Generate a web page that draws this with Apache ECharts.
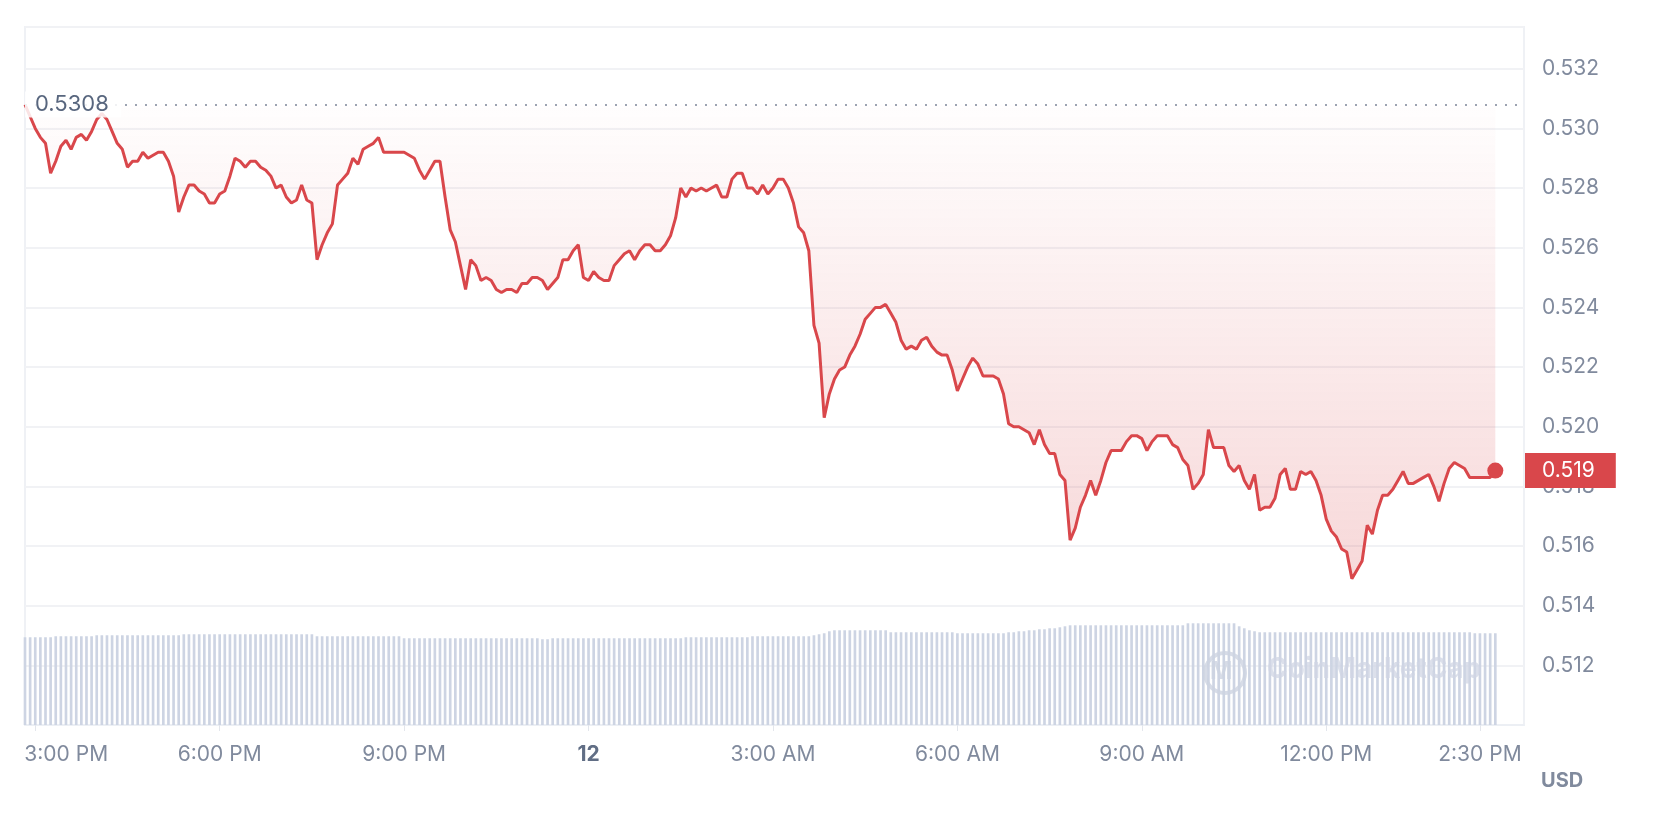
<!DOCTYPE html>
<html>
<head>
<meta charset="utf-8">
<title>Price chart</title>
<script src="https://cdn.jsdelivr.net/npm/echarts@6/dist/echarts.min.js"></script>
<style>
  html, body { margin: 0; padding: 0; background: #fff; }
  #chart { width: 1668px; height: 818px; }
</style>
</head>
<body>
<div id="chart"></div>
<script>
// one price every 5 minutes, from 14:50 on the 11th to 14:45 on the 12th
const startTime = new Date(2024, 5, 11, 14, 50).getTime();
const stepMs = 5 * 60 * 1000;
const axisEnd = new Date(2024, 5, 12, 15, 13).getTime();

const prices = [
  0.5308, 0.5304, 0.5300, 0.5297, 0.5295, 0.5285, 0.5289, 0.5294, 0.5296, 0.5293, 0.5297, 0.5298,
  0.5296, 0.5299, 0.5303, 0.5305, 0.5303, 0.5299, 0.5295, 0.5293, 0.5287, 0.5289, 0.5289, 0.5292,
  0.5290, 0.5291, 0.5292, 0.5292, 0.5289, 0.5284, 0.5272, 0.5277, 0.5281, 0.5281, 0.5279, 0.5278,
  0.5275, 0.5275, 0.5278, 0.5279, 0.5284, 0.5290, 0.5289, 0.5287, 0.5289, 0.5289, 0.5287, 0.5286,
  0.5284, 0.5280, 0.5281, 0.5277, 0.5275, 0.5276, 0.5281, 0.5276, 0.5275, 0.5256, 0.5261, 0.5265,
  0.5268, 0.5281, 0.5283, 0.5285, 0.5290, 0.5288, 0.5293, 0.5294, 0.5295, 0.5297, 0.5292, 0.5292,
  0.5292, 0.5292, 0.5292, 0.5291, 0.5290, 0.5286, 0.5283, 0.5286, 0.5289, 0.5289, 0.5277, 0.5266,
  0.5262, 0.5254, 0.5246, 0.5256, 0.5254, 0.5249, 0.5250, 0.5249, 0.5246, 0.5245, 0.5246, 0.5246,
  0.5245, 0.5248, 0.5248, 0.5250, 0.5250, 0.5249, 0.5246, 0.5248, 0.5250, 0.5256, 0.5256, 0.5259,
  0.5261, 0.5250, 0.5249, 0.5252, 0.5250, 0.5249, 0.5249, 0.5254, 0.5256, 0.5258, 0.5259, 0.5256,
  0.5259, 0.5261, 0.5261, 0.5259, 0.5259, 0.5261, 0.5264, 0.5270, 0.5280, 0.5277, 0.5280, 0.5279,
  0.5280, 0.5279, 0.5280, 0.5281, 0.5277, 0.5277, 0.5283, 0.5285, 0.5285, 0.5280, 0.5280, 0.5278,
  0.5281, 0.5278, 0.5280, 0.5283, 0.5283, 0.5280, 0.5275, 0.5267, 0.5265, 0.5259, 0.5234, 0.5228,
  0.5203, 0.5211, 0.5216, 0.5219, 0.5220, 0.5224, 0.5227, 0.5231, 0.5236, 0.5238, 0.5240, 0.5240,
  0.5241, 0.5238, 0.5235, 0.5229, 0.5226, 0.5227, 0.5226, 0.5229, 0.5230, 0.5227, 0.5225, 0.5224,
  0.5224, 0.5219, 0.5212, 0.5216, 0.5220, 0.5223, 0.5221, 0.5217, 0.5217, 0.5217, 0.5216, 0.5211,
  0.5201, 0.5200, 0.5200, 0.5199, 0.5198, 0.5194, 0.5199, 0.5194, 0.5191, 0.5191, 0.5184, 0.5182,
  0.5162, 0.5166, 0.5173, 0.5177, 0.5182, 0.5177, 0.5182, 0.5188, 0.5192, 0.5192, 0.5192, 0.5195,
  0.5197, 0.5197, 0.5196, 0.5192, 0.5195, 0.5197, 0.5197, 0.5197, 0.5194, 0.5193, 0.5189, 0.5187,
  0.5179, 0.5181, 0.5184, 0.5199, 0.5193, 0.5193, 0.5193, 0.5187, 0.5185, 0.5187, 0.5182, 0.5179,
  0.5184, 0.5172, 0.5173, 0.5173, 0.5176, 0.5184, 0.5186, 0.5179, 0.5179, 0.5185, 0.5184, 0.5185,
  0.5182, 0.5177, 0.5169, 0.5165, 0.5163, 0.5159, 0.5158, 0.5149, 0.5152, 0.5155, 0.5167, 0.5164,
  0.5172, 0.5177, 0.5177, 0.5179, 0.5182, 0.5185, 0.5181, 0.5181, 0.5182, 0.5183, 0.5184, 0.5180,
  0.5175, 0.5181, 0.5186, 0.5188, 0.5187, 0.5186, 0.5183, 0.5183, 0.5183, 0.5183, 0.5183, 0.51853
];

// 24h volume (millions USD), same timestamps
const volumes = [
  88, 88, 88, 88, 88, 88, 89, 89, 89, 89, 89, 89,
  89, 89, 90, 90, 90, 90, 90, 90, 90, 90, 90, 90,
  90, 90, 90, 90, 90, 90, 90, 91, 91, 91, 91, 91,
  91, 91, 91, 91, 91, 91, 91, 91, 91, 91, 91, 91,
  91, 91, 91, 91, 91, 91, 91, 91, 91, 89, 89, 89,
  89, 89, 89, 89, 89, 89, 89, 89, 89, 89, 89, 89,
  89, 89, 87, 87, 87, 87, 87, 87, 87, 87, 87, 87,
  87, 87, 87, 87, 87, 87, 87, 87, 87, 87, 87, 87,
  87, 87, 87, 87, 87, 86, 86, 87, 87, 87, 87, 87,
  87, 87, 87, 87, 87, 87, 87, 87, 87, 87, 87, 87,
  87, 87, 87, 87, 87, 87, 87, 87, 87, 88, 88, 88,
  88, 88, 88, 88, 88, 88, 88, 88, 88, 88, 89, 89,
  89, 89, 89, 89, 89, 89, 89, 89, 89, 89, 90, 91,
  92, 94, 95, 95, 95, 95, 95, 95, 95, 95, 95, 95,
  95, 93, 93, 93, 93, 93, 93, 93, 93, 93, 93, 93,
  93, 93, 92, 92, 92, 92, 92, 92, 92, 92, 92, 92,
  93, 93, 94, 94, 95, 95, 96, 96, 97, 97, 98, 99,
  100, 100, 100, 100, 100, 100, 100, 100, 100, 100, 100, 100,
  100, 100, 100, 100, 100, 100, 100, 100, 100, 100, 100, 102,
  102, 102, 102, 102, 102, 102, 102, 102, 102, 99, 97, 95,
  94, 93, 93, 93, 93, 93, 93, 93, 93, 93, 93, 93,
  93, 93, 93, 93, 93, 93, 93, 93, 93, 93, 93, 93,
  93, 93, 93, 93, 93, 93, 93, 93, 93, 93, 93, 93,
  93, 93, 93, 93, 93, 93, 93, 92, 92, 92, 92, 92
];

const openPrice = 0.5308;

const tickTimes = [
  new Date(2024, 5, 11, 15, 0),
  new Date(2024, 5, 11, 18, 0),
  new Date(2024, 5, 11, 21, 0),
  new Date(2024, 5, 12, 0, 0),
  new Date(2024, 5, 12, 3, 0),
  new Date(2024, 5, 12, 6, 0),
  new Date(2024, 5, 12, 9, 0),
  new Date(2024, 5, 12, 12, 0),
  new Date(2024, 5, 12, 14, 30)
].map(d => d.getTime());
const tickLabels = ['3:00 PM', '6:00 PM', '9:00 PM', '12', '3:00 AM', '6:00 AM', '9:00 AM', '12:00 PM', '2:30 PM'];

const times = prices.map((p, i) => startTime + i * stepMs);
const lastIdx = prices.length - 1;
const lastPrice = prices[lastIdx];

const red = '#d9474b';
const labelGray = '#808a9d';
const font = 'Inter, "Noto Sans", sans-serif';

let myChart = echarts.init(document.getElementById('chart'));
myChart.setOption({
  animation: false,
  textStyle: { fontFamily: font },
  grid: {
    left: 25,
    right: 144,
    top: 27,
    bottom: 93,
    outerBoundsMode: 'none',
    show: true,
    borderColor: '#eff1f5',
    borderWidth: 2,
  },
  xAxis: {
    // timestamps in ms on a plain value axis, labels placed by hand
    type: 'value',
    min: startTime,
    max: axisEnd,
    splitLine: { show: false },
    axisLine: { lineStyle: { color: '#eceff4', width: 2 } },
    axisTick: {
      show: true,
      customValues: tickTimes,
      length: 6,
      lineStyle: { color: '#e3e6ec', width: 1 },
    },
    axisLabel: {
      customValues: tickTimes,
      fontSize: 21,
      color: labelGray,
      margin: 19,
      formatter: (val) => {
        const k = tickTimes.indexOf(val);
        if (k < 0) return '';
        if (k === 0) return '{first|' + tickLabels[k] + '}';
        return tickLabels[k] === '12' ? '{day|12}' : tickLabels[k];
      },
      rich: {
        // first label is pushed right so it stays inside the plot
        first: { fontSize: 21, color: labelGray, fontFamily: font, padding: [0, 0, 0, 62] },
        day: { fontSize: 21, fontWeight: 'bold', color: '#616e85', fontFamily: font },
      },
    },
  },
  yAxis: [
    {
      type: 'value',
      position: 'right',
      min: 0.510,
      max: 0.5334,
      interval: 0.002,
      axisLine: { show: false },
      axisTick: { show: false },
      splitLine: { lineStyle: { color: '#f1f2f5', width: 2 } },
      axisLabel: {
        showMinLabel: false,
        showMaxLabel: false,
        fontSize: 21,
        color: labelGray,
        margin: 18,
        formatter: (v) => v.toFixed(3),
      },
    },
    {
      type: 'value',
      show: false,
      min: 0,
      max: 700,
      splitLine: { show: false },
    },
  ],
  graphic: [
    {
      type: 'text',
      left: 1541,
      top: 771,
      style: { text: 'USD', fontSize: 20, fontWeight: 'bold', fill: labelGray, fontFamily: font },
    },
    // faint watermark over the volume bars
    {
      type: 'circle',
      shape: { cx: 1225, cy: 673, r: 20 },
      style: { fill: 'none', stroke: 'rgba(205,211,225,0.8)', lineWidth: 4 },
      z: 100,
    },
    {
      type: 'text',
      left: 1210,
      top: 660,
      style: { text: 'M', fontSize: 24, fontWeight: 'bold', fill: 'rgba(205,211,225,0.8)', fontFamily: font },
      z: 100,
    },
    {
      type: 'text',
      left: 1267,
      top: 656,
      style: { text: 'CoinMarketCap', fontSize: 28, fontWeight: 'bold', fill: 'rgba(208,214,228,0.75)', fontFamily: font },
      z: 100,
    },
  ],
  series: [
    {
      name: 'Volume',
      type: 'bar',
      yAxisIndex: 1,
      data: volumes.map((v, i) => [times[i], v]),
      barWidth: '52%',
      itemStyle: { color: '#cdd4e3' },
      silent: true,
      z: 1,
    },
    {
      name: 'Price',
      type: 'line',
      data: prices.map((p, i) => [times[i], p]),
      showSymbol: false,
      lineStyle: { color: red, width: 3 },
      itemStyle: { color: red },
      areaStyle: {
        origin: openPrice,
        color: new echarts.graphic.LinearGradient(0, 0, 0, 1, [
          { offset: 0, color: 'rgba(217,71,75,0.01)' },
          { offset: 1, color: 'rgba(217,71,75,0.30)' },
        ]),
      },
      z: 3,
      markLine: {
        silent: true,
        symbol: 'none',
        animation: false,
        precision: 6,
        data: [
          {
            yAxis: openPrice,
            lineStyle: { type: [2, 8], color: '#9ca3b1', width: 2 },
            label: {
              position: 'insideStartTop',
              distance: [0, 0],
              verticalAlign: 'middle',
              formatter: String(openPrice),
              color: '#58667e',
              fontSize: 22,
              backgroundColor: 'rgba(255,255,255,0.85)',
              padding: [2, 12, 2, 10],
            },
          },
          {
            yAxis: lastPrice,
            lineStyle: { color: 'rgba(0,0,0,0)', width: 0 },
            label: {
              position: 'end',
              distance: 1,
              opacity: 1,
              formatter: lastPrice.toFixed(3),
              color: '#fff',
              fontSize: 21,
              backgroundColor: red,
              padding: [7, 21, 7, 17],
            },
          },
        ],
      },
    },
    {
      name: 'Last',
      type: 'scatter',
      data: [[times[lastIdx], lastPrice]],
      symbolSize: 16,
      itemStyle: { color: red, opacity: 1 },
      silent: true,
      z: 4,
    },
  ],
});
</script>
</body>
</html>
